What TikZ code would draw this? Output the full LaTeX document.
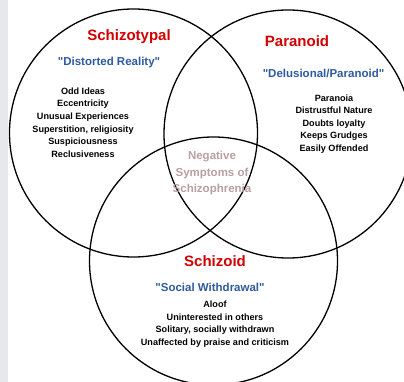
\documentclass[tikz,border=0pt]{standalone}
\usepackage{fontspec}
\setmainfont{Liberation Sans}[Ligatures=TeXOff]
\definecolor{titlered}{RGB}{210,0,0}
\definecolor{quoteblue}{RGB}{46,90,160}
\definecolor{overlapgrey}{RGB}{184,160,160}
\definecolor{stripgrey}{RGB}{230,232,234}
\begin{document}
\begin{tikzpicture}[x=1pt, y=-1pt,
	disorder/.style={circle, minimum size=248pt, inner sep=0pt, draw=black, line width=1.3pt},
	title/.style={font=\fontsize{15}{18}\selectfont\bfseries, text=titlered},
	motto/.style={font=\fontsize{11.5}{14}\selectfont\bfseries, text=quoteblue},
	traits/.style={font=\fontsize{9.1}{12.6}\selectfont\bfseries, align=center},
	overlap/.style={font=\fontsize{11.5}{16.5}\selectfont\bfseries, text=overlapgrey, align=center}]
	\useasboundingbox (0, 0) rectangle (404, 382);
	\clip (0, 0) rectangle (404, 382);
	\fill[stripgrey] (0, 0) rectangle (8, 382);

	\node[disorder] (schizotypal) at (133.5, 133) {};
	\node[disorder] (paranoid) at (288, 134) {};
	\node[disorder] (schizoid) at (213.5, 261) {};

	\node[title] (schizotypal-title) at (129, 37) {Schizotypal};
	\node[motto] (schizotypal-motto) at (109, 63) {"Distorted Reality"};
	\node[traits] (schizotypal-traits) at (83, 122.5) {Odd Ideas\\Eccentricity\\Unusual Experiences\\Superstition, religiosity\\Suspiciousness\\Reclusiveness};

	\node[title] (paranoid-title) at (297, 41) {Paranoid};
	\node[motto] (paranoid-motto) at (323.5, 73) {"Delusional/Paranoid"};
	\node[traits] (paranoid-traits) at (334, 124) {Paranoia\\Distrustful Nature\\Doubts loyalty\\Keeps Grudges\\Easily Offended};

	\node[title] (schizoid-title) at (215, 261) {Schizoid};
	\node[motto] (schizoid-motto) at (210, 287) {"Social Withdrawal"};
	\node[traits] (schizoid-traits) at (215, 324) {Aloof\\Uninterested in others\\Solitary, socially withdrawn\\Unaffected by praise and criticism};

	\node[overlap] (negative) at (212, 173.5) {Negative\\Symptoms of\\Schizophrenia};
\end{tikzpicture}
\end{document}
